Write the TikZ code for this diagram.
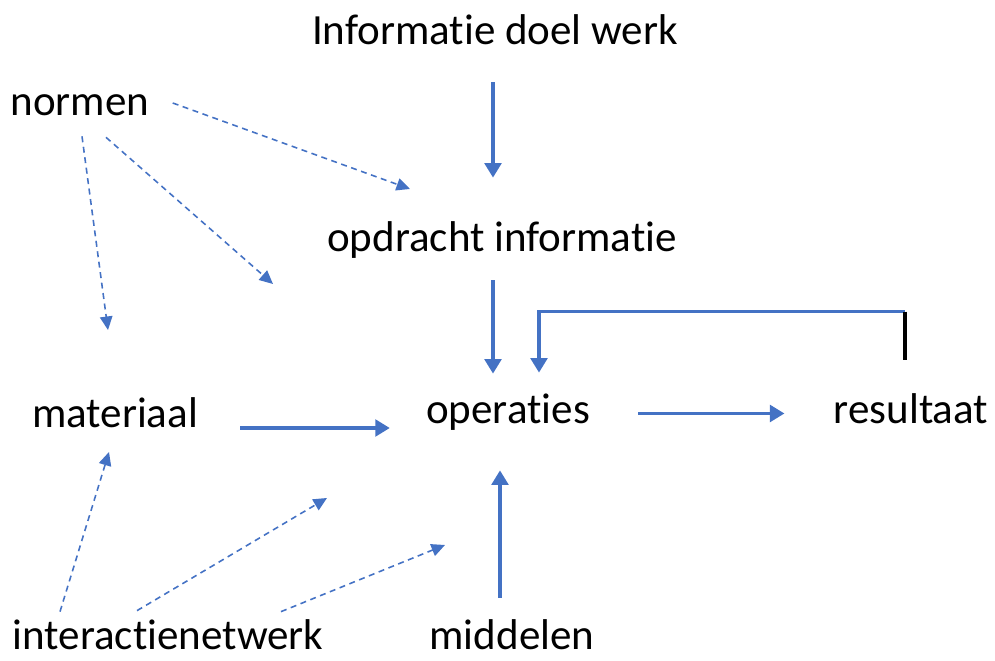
\documentclass[tikz,border=0pt]{standalone}
\usepackage{fontspec}
\setmainfont{Carlito}[Ligatures=NoCommon]
\usetikzlibrary{arrows.meta,calc}
\definecolor{flowblue}{HTML}{4472C4}
\tikzset{
  lbl/.style={anchor=base, inner sep=0pt, text height=0.6cm, text depth=0.18cm, font=\fontsize{24.5}{29}\selectfont},
  flow/.style={flowblue, line width=2.1pt, -{Triangle[length=0.29cm,width=0.33cm]}},
  infl/.style={flowblue, line width=0.9pt, dash pattern=on 3.4pt off 2.6pt, -{Triangle[length=0.27cm,width=0.25cm]}},
  tick/.style={black, line width=2.3pt}
}
\begin{document}
\begin{tikzpicture}[x=0.02cm, y=-0.02cm]
\useasboundingbox (0,0) rectangle (995,661);
\node[lbl] (info) at (495,45){Informatie doel werk};
\node[lbl] (normen) at (80,116){normen};
\node[lbl] (opdr) at (502,252){opdracht informatie};
\node[lbl] (mat) at (115,428){materiaal};
\node[lbl] (oper) at (508,424){operaties};
\node[lbl] (result) at (911,424){resultaat};
\node[lbl, text depth=0pt] (inter) at (168,650){interactienetwerk};
\node[lbl, text depth=0pt] (middel) at (512,650){middelen};
\coordinate (fb) at ($(result.north)+(-6,-82)$);
\coordinate (n1) at (410,189);
\coordinate (n2) at (273,284);
\coordinate (n3) at (108,330);
\coordinate (i1) at (109,452);
\coordinate (i2) at (327,498);
\coordinate (i3) at (445,545);
\draw[flow] ($(info.south)+(-2,28)$) -- ($(opdr.north)+(-9,-44)$);
\draw[flow] ($(opdr.south)+(-9,19)$) -- ($(oper.north)+(-15,-20)$);
\draw[flow] (fb) -| ($(oper.north)+(31,-21)$);
\draw[tick] (fb) -- ++(0,48);
\draw[flow] ($(mat.east)+(42,10.5)$) -- ($(oper.west)+(-36,14.5)$);
\draw[flow] ($(oper.east)+(48,0)$) -- ($(result.west)+(-49,0)$);
\draw[flow] ($(middel.north)+(-12,-22)$) -- ($(oper.south)+(-8,37)$);
\draw[infl] ($(normen.east)+(23,-2.5)$) -- (n1);
\draw[infl] ($(normen.south)+(26,12)$) -- (n2);
\draw[infl] ($(normen.south)+(2,11)$) -- (n3);
\draw[infl] ($(inter.north)+(-108,-8)$) -- (i1);
\draw[infl] ($(inter.north)+(-31,-9)$) -- (i2);
\draw[infl] ($(inter.north)+(113,-8)$) -- (i3);
\end{tikzpicture}
\end{document}
